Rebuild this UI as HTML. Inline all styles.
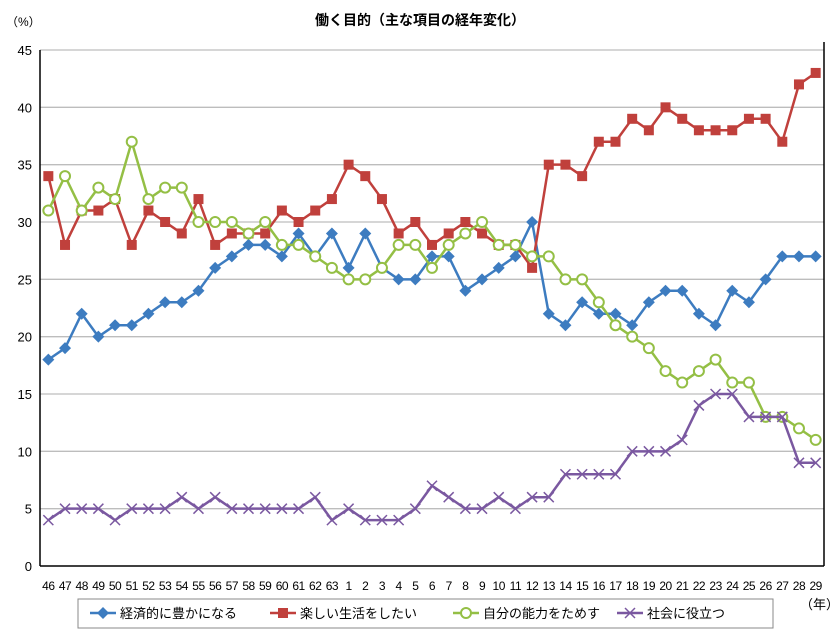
<!DOCTYPE html>
<html><head><meta charset="utf-8"><style>
body{margin:0;background:#fff;font-family:"Liberation Sans","Noto Sans CJK JP",sans-serif}
</style></head><body>
<svg id="c" width="840" height="636" style="display:block;font-family:'Liberation Sans','Noto Sans CJK JP',sans-serif"></svg>
<script>
const categories=["46","47","48","49","50","51","52","53","54","55","56","57","58","59","60","61","62","63","1","2","3","4","5","6","7","8","9","10","11","12","13","14","15","16","17","18","19","20","21","22","23","24","25","26","27","28","29"];
const econ=[18,19,22,20,21,21,22,23,23,24,26,27,28,28,27,29,27,29,26,29,26,25,25,27,27,24,25,26,27,30,22,21,23,22,22,21,23,24,24,22,21,24,23,25,27,27,27];
const fun=[34,28,31,31,32,28,31,30,29,32,28,29,29,29,31,30,31,32,35,34,32,29,30,28,29,30,29,28,28,26,35,35,34,37,37,39,38,40,39,38,38,38,39,39,37,42,43];
const ability=[31,34,31,33,32,37,32,33,33,30,30,30,29,30,28,28,27,26,25,25,26,28,28,26,28,29,30,28,28,27,27,25,25,23,21,20,19,17,16,17,18,16,16,13,13,12,11];
const society=[4,5,5,5,4,5,5,5,6,5,6,5,5,5,5,5,6,4,5,4,4,4,5,7,6,5,5,6,5,6,6,8,8,8,8,10,10,10,11,14,15,15,13,13,13,9,9];
const yTicks=[0,5,10,15,20,25,30,35,40,45];
const NS="http://www.w3.org/2000/svg";
const svg=document.getElementById('c');
const L=40,R=824,T=50,B=566;
const step=(R-L)/categories.length;
function x(i){return L+step*(i+0.5);}
function y(v){return B-(v/45)*(B-T);}
function mk(tag,attrs,parent){const e=document.createElementNS(NS,tag);for(const k in attrs)e.setAttribute(k,attrs[k]);(parent||svg).appendChild(e);return e;}
function txt(s,attrs){const e=mk('text',attrs);e.textContent=s;return e;}
let t=txt('働く目的（主な項目の経年変化）',{x:420,y:25,'text-anchor':'middle','font-size':14,'font-weight':'bold',fill:'#000'});


t=txt('（%）',{x:6,y:26,'font-size':12});


yTicks.forEach(v=>{
 if(v>0){const g=mk('line',{x1:L,x2:R,y1:y(v),y2:y(v),stroke:'#bdbdbd','stroke-width':1.3});
 
 }
 const l=txt(String(v),{x:L-8,y:y(v)+5,'text-anchor':'end','font-size':13});
 
 
});
let a=mk('line',{x1:L,x2:L,y1:T,y2:B,stroke:'#000','stroke-width':1.5});


a=mk('line',{x1:L,x2:R,y1:B,y2:B,stroke:'#000','stroke-width':1.5});


a=mk('line',{x1:R,x2:R,y1:T-8,y2:B,stroke:'#000','stroke-width':1.5});


categories.forEach((c,i)=>{
 const l=txt(c,{x:x(i),y:590,'text-anchor':'middle','font-size':12,'letter-spacing':'-0.5'});
 
 
});
t=txt('（年）',{x:800,y:609,'font-size':13});


const series=[
 {name:'経済的に豊かになる',data:econ,color:'#3d7cc0',m:'diamond',id:'econ'},
 {name:'楽しい生活をしたい',data:fun,color:'#c0403c',m:'square',id:'fun'},
 {name:'自分の能力をためす',data:ability,color:'#94bf45',m:'circle',id:'ability'},
 {name:'社会に役立つ',data:society,color:'#7a58a0',m:'cross',id:'society'}];
function marker(type,cx,cy,color,g){
 let e;
 if(type==='diamond')e=mk('path',{d:`M${cx} ${cy-6}L${cx+6} ${cy}L${cx} ${cy+6}L${cx-6} ${cy}Z`,fill:color},g);
 else if(type==='square')e=mk('rect',{x:cx-5,y:cy-5,width:10,height:10,fill:color},g);
 else if(type==='circle')e=mk('circle',{cx:cx,cy:cy,r:5,fill:'#fff',stroke:color,'stroke-width':2},g);
 else e=mk('path',{d:`M${cx-5} ${cy-5}L${cx+5} ${cy+5}M${cx-5} ${cy+5}L${cx+5} ${cy-5}`,stroke:color,'stroke-width':1.5,fill:'none'},g);
 return e;
}
series.forEach(s=>{
 const g=mk('g',{});
 
 
 const p=mk('polyline',{points:s.data.map((v,i)=>x(i)+','+y(v)).join(' '),fill:'none',stroke:s.color,'stroke-width':2.5},g);
 
 
 s.data.forEach((v,i)=>{const m=marker(s.m,x(i),y(v),s.color,g);
  
  });
});
const lg=mk('g',{});


mk('rect',{x:78,y:599,width:695,height:29,fill:'#fff',stroke:'#888'},lg);
const lx=[90,270,453,617];
series.forEach((s,i)=>{
 const g=mk('g',{},lg);
 
 
 mk('line',{x1:lx[i],x2:lx[i]+26,y1:613,y2:613,stroke:s.color,'stroke-width':2.5},g);
 marker(s.m,lx[i]+13,613,s.color,g);
 const tt=mk('text',{x:lx[i]+30,y:618,'font-size':13},g);tt.textContent=s.name;
});
</script>
</body></html>
